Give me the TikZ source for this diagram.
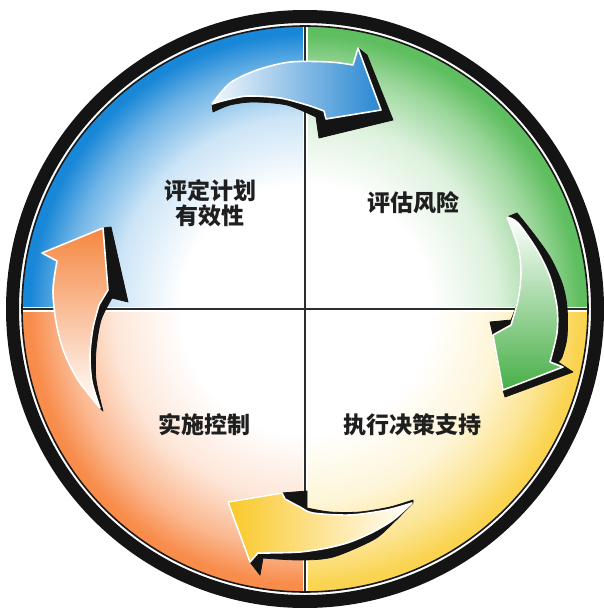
\documentclass[tikz,border=0pt]{standalone}
\usepackage{fontspec}
\newfontfamily\cjk{Noto Sans CJK SC}
\definecolor{qBlue}{RGB}{25,135,215}
\definecolor{qGreen}{RGB}{95,190,95}
\definecolor{qYellow}{RGB}{250,212,80}
\definecolor{qOrange}{RGB}{248,140,75}
\definecolor{aBlue}{RGB}{40,135,210}
\definecolor{aGreen}{RGB}{70,175,70}
\definecolor{aYellow}{RGB}{250,200,40}
\definecolor{aOrange}{RGB}{245,135,65}
\definecolor{lineGray}{RGB}{45,45,45}
\pgfdeclareradialshading{shBlue}{\pgfpoint{0bp}{0bp}}{color(0bp)=(white); color(11bp)=(white); color(17bp)=(qBlue!22); color(21.3bp)=(qBlue!62); color(24.3bp)=(qBlue); color(50bp)=(qBlue)}
\pgfdeclareradialshading{shGreen}{\pgfpoint{0bp}{0bp}}{color(0bp)=(white); color(11bp)=(white); color(17bp)=(qGreen!22); color(21.3bp)=(qGreen!62); color(24.3bp)=(qGreen); color(50bp)=(qGreen)}
\pgfdeclareradialshading{shYellow}{\pgfpoint{0bp}{0bp}}{color(0bp)=(white); color(11bp)=(white); color(17bp)=(qYellow!22); color(21.3bp)=(qYellow!62); color(24.3bp)=(qYellow); color(50bp)=(qYellow)}
\pgfdeclareradialshading{shOrange}{\pgfpoint{0bp}{0bp}}{color(0bp)=(white); color(11bp)=(white); color(17bp)=(qOrange!22); color(21.3bp)=(qOrange!62); color(24.3bp)=(qOrange); color(50bp)=(qOrange)}
\begin{document}
\begin{tikzpicture}[x=1pt,y=-1pt,
  lbl/.style={font=\cjk\bfseries\fontsize{23}{25}\selectfont, text=black!88, align=center, inner sep=0pt},
  arrowbody/.style={draw=white, line width=1.6pt, line join=round},
  shadowbody/.style={fill=black!92, draw=black!92, line width=0.8pt, line join=round}]
\useasboundingbox (0,0) rectangle (604,608);
\clip (0,0) rectangle (604,608);
\coordinate (C) at (305,309);
\coordinate (T) at (305,26);
\coordinate (B) at (305,592);
\coordinate (L) at (22,309);
\coordinate (R) at (588,309);
% quadrants
\begin{scope}
  \clip (C) circle (283);
  \begin{scope}\clip (0,0) rectangle (C); \shade[shading=shBlue] (22,26) rectangle (588,592);\end{scope}
  \begin{scope}\clip (C) rectangle (604,0); \shade[shading=shGreen] (22,26) rectangle (588,592);\end{scope}
  \begin{scope}\clip (C) rectangle (604,608); \shade[shading=shYellow] (22,26) rectangle (588,592);\end{scope}
  \begin{scope}\clip (C) rectangle (0,608); \shade[shading=shOrange] (22,26) rectangle (588,592);\end{scope}
\end{scope}
% dividers
\draw[white, line width=5pt] (T) -- (B) (L) -- (R);
\draw[lineGray, line width=2.2pt] (T) -- (B) (L) -- (R);
% rings
\draw[white, line width=3pt] (C) circle (285);
\draw[black!90, line width=1.6pt] (C) circle (283);
\draw[black!92, line width=13pt] (C) circle (292.5);
% arrow 1 (blue)
\path[shadowbody] (212,104) -- plot[smooth] coordinates {(212,104) (230,83) (257,70) (290,62) (330,62) (353,65)} -- (358,48) -- (367,55) -- (393,120) -- (319,138) -- (316,117) -- plot[smooth] coordinates {(316,117) (287,105) (253,102) (230,105) (213,112)} -- cycle;
\path[arrowbody, left color=aBlue!6, right color=aBlue] (212,104) -- plot[smooth] coordinates {(212,104) (230,83) (257,70) (290,62) (330,62) (353,65)} -- (358,48) -- (381,110) -- (326,119) -- (324,111) -- plot[smooth] coordinates {(324,111) (307,105) (280,98) (248,96) (226,100) (212,104)} -- cycle;
% arrow 2 (green)
\path[shadowbody] (507,217) -- (517,213) -- plot[smooth] coordinates {(517,213) (533,233) (550,257) (562,283) (567,307) (567,337) (562,357) (558,362)} -- (573,372) -- (505,397) -- (503,390) -- (493,335) -- (490,322) -- (511,320) -- plot[smooth] coordinates {(511,320) (518,300) (521,273) (518,247) (507,217)} -- cycle;
\path[arrowbody, top color=white, bottom color=aGreen] (507,217) -- plot[smooth] coordinates {(507,217) (518,223) (537,250) (550,277) (557,307) (557,333) (550,362)} -- (563,367) -- (503,390) -- (493,335) -- (511,325) -- plot[smooth] coordinates {(511,325) (518,300) (521,273) (518,247) (507,217)} -- cycle;
% arrow 3 (yellow)
\path[shadowbody] (228,502) -- (282,493) -- (307,491) -- (307,508) -- plot[smooth] coordinates {(307,508) (330,512) (360,512) (390,507) (413,500)} -- plot[smooth] coordinates {(413,503) (390,526) (373,540) (333,557) (300,560) (263,558)} -- (260,575) -- (250,562) -- cycle;
\path[arrowbody, left color=aYellow, right color=white] (228,502) -- (282,493) -- (285,499) -- plot[smooth] coordinates {(285,499) (300,507) (313,513) (350,515) (387,510) (412,503)} -- plot[smooth] coordinates {(412,503) (393,520) (373,532) (350,542) (327,548) (300,552) (267,553) (258,553)} -- (250,562) -- cycle;
% arrow 4 (orange)
\path[shadowbody] (103,228) -- (111,227) -- (128,302) -- (112,298) -- plot[smooth] coordinates {(112,298) (101,320) (96,350) (96,380) (103,411)} -- (100,408) -- plot[smooth] coordinates {(100,408) (92,382) (90,355) (93,328) (99,305)} -- (108,290) -- cycle;
\path[arrowbody, top color=aOrange, bottom color=white] (103,228) -- (42,253) -- (57,261) -- plot[smooth] coordinates {(57,261) (53,290) (56,322) (64,352) (78,380) (100,408)} -- plot[smooth] coordinates {(100,408) (92,382) (90,355) (93,328) (99,305)} -- (108,290) -- cycle;
% labels
\node[lbl] (t1) at (210,203) {评定计划\\有效性};
\node[lbl] (t2) at (413,203) {评估风险};
\node[lbl] (t3) at (204,425) {实施控制};
\node[lbl] (t4) at (412,425) {执行决策支持};
\end{tikzpicture}
\end{document}
